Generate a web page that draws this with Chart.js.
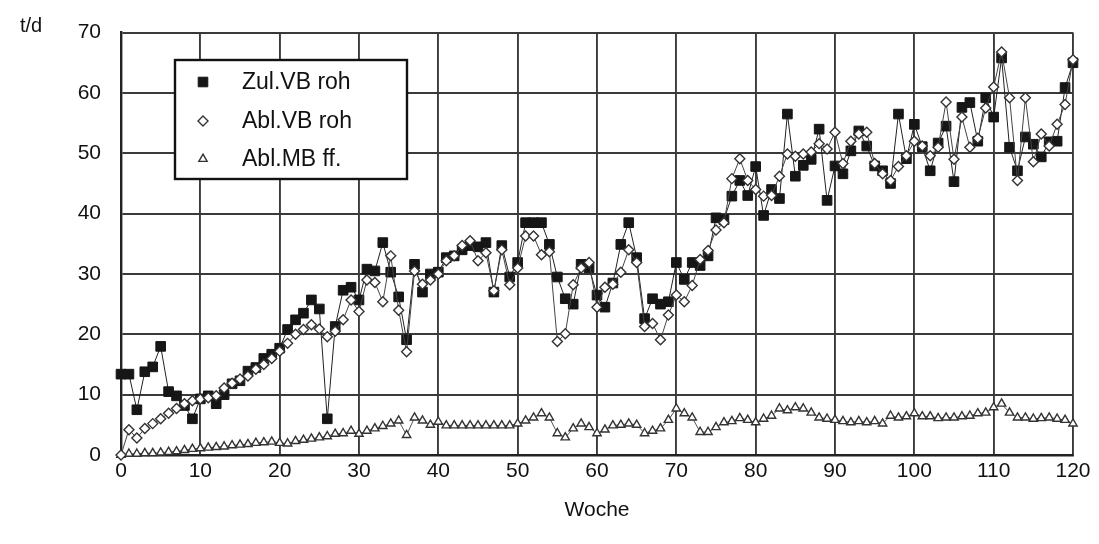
<!DOCTYPE html>
<html>
<head>
<meta charset="utf-8">
<script src="https://cdn.jsdelivr.net/npm/chart.js@4.4.1/dist/chart.umd.min.js"></script>
<style>
  html, body { margin: 0; padding: 0; background: #ffffff; }
  #wrap { position: relative; width: 1099px; height: 544px; }
</style>
</head>
<body>
<div id="wrap"><canvas id="c"></canvas></div>
<script>
// ---- data ----
const weeks = [0,1,2,3,4,5,6,7,8,9,10,11,12,13,14,15,16,17,18,19,20,21,22,23,24,25,26,27,28,29,30,31,32,33,34,35,36,37,38,39,40,41,42,43,44,45,46,47,48,49,50,51,52,53,54,55,56,57,58,59,60,61,62,63,64,65,66,67,68,69,70,71,72,73,74,75,76,77,78,79,80,81,82,83,84,85,86,87,88,89,90,91,92,93,94,95,96,97,98,99,100,101,102,103,104,105,106,107,108,109,110,111,112,113,114,115,116,117,118,119,120];

const zulVBroh = [
  13.4, 13.4, 7.5, 13.8, 14.6, 18, 10.5, 9.8, 8.2, 6,
  9.3, 9.8, 8.5, 10, 11.8, 12.3, 13.9, 14.5, 16, 16.7,
  17.7, 20.8, 22.4, 23.5, 25.7, 24.2, 6, 21.3, 27.3, 27.8,
  25.7, 30.8, 30.5, 35.2, 30.3, 26.2, 19.1, 31.6, 27, 30,
  30.3, 32.7, 33, 34, 34.7, 34.5, 35.2, 27, 34.7, 29.5,
  31.9, 38.5, 38.5, 38.5, 34.9, 29.5, 25.9, 25, 31.6, 31,
  26.5, 24.5, 28.5, 34.9, 38.5, 32.7, 22.6, 25.9, 25, 25.4,
  31.9, 29.1, 31.9, 31.4, 33, 39.3, 39, 42.9, 45.5, 43,
  47.8, 39.7, 44, 42.5, 56.5, 46.2, 48, 49, 54, 42.2,
  47.9, 46.6, 50.4, 53.7, 51.2, 47.9, 47.1, 45, 56.5, 49.1,
  54.8, 51.1, 47.1, 51.7, 54.5, 45.3, 57.6, 58.4, 52, 59.2,
  56, 65.8, 51, 47.1, 52.7, 51.5, 49.4, 51.9, 52, 60.9,
  65
];

const ablVBroh = [
  0, 4.2, 2.8, 4.4, 5.2, 6, 6.9, 7.7, 8.5, 9,
  9.3, 9.5, 9.8, 11.1, 11.9, 12.6, 13.1, 14.2, 15, 16,
  17.2, 18.5, 20, 20.8, 21.6, 20.9, 19.6, 20.5, 22.4, 25.7,
  23.8, 29, 28.6, 25.4, 33, 24, 17.1, 30.5, 28.3, 29,
  30, 32.2, 33, 34.7, 35.5, 32.2, 33.5, 27.2, 34, 28.2,
  31, 36.3, 36.3, 33.2, 33.7, 18.8, 20.1, 28.2, 31, 31.9,
  24.5, 27.8, 28.3, 30.3, 34, 31.9, 21.3, 21.8, 19.1, 23.2,
  26.5, 25.4, 28.1, 32.4, 33.9, 37.3, 38.5, 45.8, 49.1, 45.5,
  44, 42.9, 43, 46.2, 49.9, 49.5, 49.9, 50.2, 51.6, 50.7,
  53.5, 48.3, 52, 53.2, 53.5, 48.3, 46.6, 45.5, 47.8, 49.6,
  52, 51.2, 49.6, 51, 58.5, 49, 56, 51, 52.5, 57.5,
  61, 66.8, 59.2, 45.5, 59.2, 48.6, 53.2, 51.2, 54.8, 58.1,
  65.5
];

const ablMBff = [
  0, 0.2, 0.2, 0.3, 0.3, 0.4, 0.5, 0.6, 0.8, 1,
  1.1, 1.2, 1.3, 1.4, 1.6, 1.7, 1.8, 2, 2.1, 2.2,
  2, 1.9, 2.3, 2.5, 2.7, 2.9, 3.1, 3.5, 3.6, 4,
  3.5, 4, 4.4, 4.8, 5.2, 5.7, 3.3, 6.2, 5.7, 5,
  5.5, 4.9, 4.9, 4.9, 4.9, 4.9, 4.9, 4.9, 4.9, 4.9,
  5.2, 5.7, 6.2, 6.9, 6.2, 3.6, 2.9, 4.4, 5.2, 4.6,
  3.6, 4.2, 4.9, 5, 5.2, 5, 3.6, 4, 4.4, 5.8,
  7.7, 6.9, 6.2, 3.8, 3.8, 4.6, 5.4, 5.6, 6.1, 5.8,
  5.4, 6, 6.5, 7.7, 7.4, 7.9, 7.7, 7, 6.2, 6,
  5.8, 5.6, 5.4, 5.6, 5.4, 5.6, 5.2, 6.5, 6.2, 6.4,
  6.9, 6.4, 6.4, 6.1, 6.2, 6.2, 6.4, 6.5, 6.9, 7,
  7.9, 8.5, 7, 6.2, 6.2, 6, 6.1, 6.2, 6, 5.8,
  5.2
];

const seriesNames = ['Zul.VB roh', 'Abl.VB roh', 'Abl.MB ff.'];
const xTitle = 'Woche';
const yUnit = 't/d';

// ---- chart ----
const FONT = "'Liberation Sans', Arial, Helvetica, sans-serif";
const pts = arr => arr.map((v, i) => ({ x: weeks[i], y: v }));

const legendPlugin = {
  id: 'boxLegend',
  afterDatasetsDraw(chart) {
    const ctx = chart.ctx;
    const bx = 175, by = 60, bw = 232, bh = 119;
    ctx.save();
    ctx.fillStyle = '#ffffff';
    ctx.fillRect(bx, by, bw, bh);
    ctx.lineWidth = 2.4;
    ctx.strokeStyle = '#111111';
    ctx.strokeRect(bx, by, bw, bh);
    const rows = [82, 121, 159];
    chart.data.datasets.forEach((ds, i) => {
      ctx.save();
      ctx.fillStyle = ds.pointBackgroundColor;
      ctx.strokeStyle = ds.pointBorderColor;
      ctx.lineWidth = ds.pointBorderWidth;
      Chart.helpers.drawPoint(ctx, {
        pointStyle: ds.pointStyle,
        radius: ds.pointRadius,
        borderWidth: ds.pointBorderWidth,
        rotation: 0
      }, 203, rows[i]);
      ctx.restore();
      ctx.fillStyle = '#111111';
      ctx.font = '23px ' + FONT;
      ctx.textBaseline = 'middle';
      ctx.textAlign = 'left';
      ctx.fillText(ds.label, 242, rows[i] + 1);
    });
    // y unit
    ctx.font = '20px ' + FONT;
    ctx.fillStyle = '#111111';
    ctx.textAlign = 'left';
    ctx.textBaseline = 'middle';
    ctx.fillText(yUnit, 20, 26);
    ctx.restore();
  }
};

new Chart(document.getElementById('c'), {
  type: 'line',
  data: {
    datasets: [
      {
        label: seriesNames[0],
        data: pts(zulVBroh),
        borderColor: '#222222',
        borderWidth: 1,
        pointStyle: 'rect',
        pointRadius: 6.8,
        pointBackgroundColor: '#161616',
        pointBorderColor: '#161616',
        pointBorderWidth: 1,
        tension: 0,
        clip: 10,
        order: 1
      },
      {
        label: seriesNames[1],
        data: pts(ablVBroh),
        borderColor: '#444444',
        borderWidth: 1,
        pointStyle: 'rectRot',
        pointRadius: 5,
        pointBackgroundColor: '#ffffff',
        pointBorderColor: '#333333',
        pointBorderWidth: 1.4,
        tension: 0,
        clip: 10,
        order: 0
      },
      {
        label: seriesNames[2],
        data: pts(ablMBff),
        borderColor: '#555555',
        borderWidth: 1,
        pointStyle: 'triangle',
        pointRadius: 4.8,
        pointBackgroundColor: '#ffffff',
        pointBorderColor: '#333333',
        pointBorderWidth: 1.4,
        tension: 0,
        clip: 10,
        order: 2
      }
    ]
  },
  options: {
    responsive: true,
    maintainAspectRatio: false,
    animation: false,
    layout: { padding: { top: 27, right: 26, left: 0, bottom: 0 } },
    plugins: {
      legend: { display: false },
      tooltip: { enabled: false }
    },
    scales: {
      x: {
        type: 'linear',
        min: 0, max: 120,
        afterFit(axis) { axis.height = 89; },
        ticks: {
          stepSize: 10,
          color: '#111111',
          font: { family: FONT, size: 21 },
          padding: 4,
          maxRotation: 0
        },
        grid: { color: '#3a3a3a', lineWidth: 1.9, drawTicks: false },
        border: { display: true, color: '#222222', width: 2.4 },
        title: {
          display: true,
          text: xTitle,
          color: '#111111',
          font: { family: FONT, size: 21 },
          padding: { top: 0, bottom: 21 }
        }
      },
      y: {
        type: 'linear',
        min: 0, max: 70,
        afterFit(axis) { axis.width = 121; },
        ticks: {
          stepSize: 10,
          color: '#111111',
          font: { family: FONT, size: 21 },
          padding: 20
        },
        grid: { color: '#3a3a3a', lineWidth: 1.9, drawTicks: false },
        border: { display: true, color: '#222222', width: 2.4 }
      }
    }
  },
  plugins: [legendPlugin]
});
</script>
</body>
</html>
